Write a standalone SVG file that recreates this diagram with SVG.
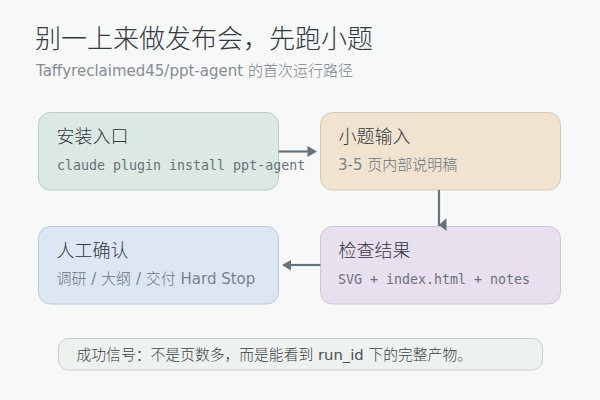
<svg xmlns="http://www.w3.org/2000/svg" width="600" height="400" viewBox="0 0 600 400">
<style>
.sans{font-family:"DejaVu Sans","Noto Sans CJK SC",sans-serif}
.mono{font-family:"DejaVu Sans Mono","Liberation Mono",monospace}
.l{font-weight:300}
.title{font-size:26px;fill:#333a40}
.sub{font-size:15px;fill:#868c94}
.sub .l{fill:#7b828a}
.nt{font-size:18px;fill:#30363c}
.nd{font-size:15px;fill:#7a828a}
.nd .l{fill:#6a737c}
.nc{font-size:13.3px;fill:#69727b}
.ft{font-size:14.8px;fill:#4a5056}
.ft .l{fill:#3a4046}
.node rect{stroke-width:1}
.conn line{stroke:#66737d;stroke-width:2.2}
.conn polygon{fill:#66737d}
</style>
<rect width="600" height="400" fill="#f7f8f8"/>
<text class="sans title l" x="35" y="48">别一上来做发布会，先跑小题</text>
<text class="sans sub" x="36" y="76">Taffyreclaimed45/ppt-agent <tspan class="l">的首次运行路径</tspan></text>
<g id="node-install" class="node">
<rect x="38.5" y="112.5" width="240" height="77.5" rx="12" fill="#dce9e3" stroke="#b8cbc1"/>
<text class="sans nt l" x="56.5" y="143">安装入口</text>
<text class="mono nc" x="57" y="169.5">claude plugin install ppt-agent</text>
</g>
<g id="node-input" class="node">
<rect x="320.5" y="112.5" width="240" height="77.5" rx="12" fill="#f0e4d0" stroke="#d8cbb5"/>
<text class="sans nt l" x="338.5" y="143">小题输入</text>
<text class="sans nd" x="338" y="169.5">3-5 <tspan class="l">页内部说明稿</tspan></text>
</g>
<g id="node-confirm" class="node">
<rect x="38.5" y="226.5" width="240" height="77.5" rx="12" fill="#dde7f4" stroke="#b9c8dd"/>
<text class="sans nt l" x="56.5" y="257">人工确认</text>
<text class="sans nd" x="56.5" y="283.5"><tspan class="l">调研</tspan> / <tspan class="l">大纲</tspan> / <tspan class="l">交付</tspan> Hard Stop</text>
</g>
<g id="node-check" class="node">
<rect x="320.5" y="226.5" width="240" height="77.5" rx="12" fill="#e8e0ee" stroke="#cfc3d9"/>
<text class="sans nt l" x="338.5" y="257">检查结果</text>
<text class="mono nc" x="338" y="283.5">SVG + index.html + notes</text>
</g>
<g id="connectors" class="conn">
<line x1="278.5" y1="151.5" x2="309" y2="151.5"/>
<polygon points="317,151.5 307.5,146 307.5,157"/>
<line x1="439" y1="190" x2="439" y2="226"/>
<polygon points="439,225 446.5,218 446.5,231"/>
<line x1="320.5" y1="265" x2="289" y2="265"/>
<polygon points="282,265 291,260 291,270.5"/>
</g>
<g id="footer" class="node">
<rect x="58.5" y="338.5" width="484" height="31.5" rx="10" fill="#eef2ef" stroke="#c5cec8"/>
<text class="sans ft" x="76.5" y="360"><tspan class="l">成功信号：不是页数多，而是能看到</tspan> run_id <tspan class="l">下的完整产物。</tspan></text>
</g>
</svg>
